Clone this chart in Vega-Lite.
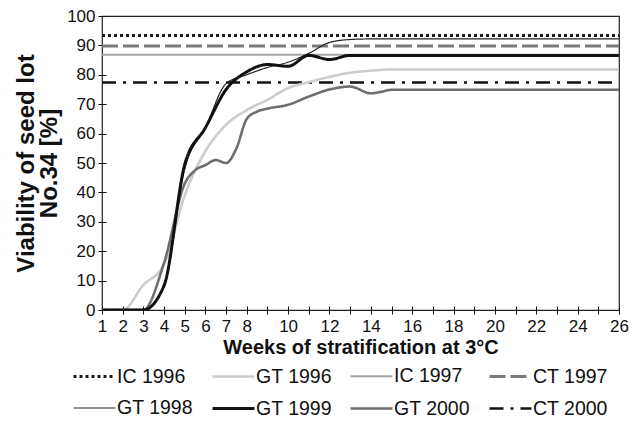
{
  "$schema": "https://vega.github.io/schema/vega-lite/v6.json",
  "autosize": {"type": "none"},
  "width": 517,
  "height": 294,
  "padding": {"left": 102, "top": 16, "right": 24, "bottom": 124},
  "background": "white",
  "config": {
    "font": "Liberation Sans",
    "view": {"stroke": "#222222", "strokeWidth": 1.2},
    "axis": {"labelColor": "#111111", "titleColor": "#111111", "tickColor": "#111111"}
  },
  "data": {
    "values": [
      {"series": "IC 1996", "week": 1, "value": 93.4},
      {"series": "IC 1996", "week": 26, "value": 93.4},
      {"series": "CT 1997", "week": 1, "value": 89.8},
      {"series": "CT 1997", "week": 26, "value": 89.8},
      {"series": "CT 2000", "week": 1, "value": 77.4},
      {"series": "CT 2000", "week": 26, "value": 77.4},
      {"series": "IC 1997", "week": 1, "value": 86.8},
      {"series": "IC 1997", "week": 26, "value": 86.8},
      {"series": "GT 1996", "week": 1, "value": 0},
      {"series": "GT 1996", "week": 2, "value": 0},
      {"series": "GT 1996", "week": 3, "value": 8.5},
      {"series": "GT 1996", "week": 4, "value": 15.5},
      {"series": "GT 1996", "week": 5, "value": 39},
      {"series": "GT 1996", "week": 6, "value": 54},
      {"series": "GT 1996", "week": 7, "value": 63},
      {"series": "GT 1996", "week": 8, "value": 68},
      {"series": "GT 1996", "week": 9, "value": 71.5},
      {"series": "GT 1996", "week": 10, "value": 75.5},
      {"series": "GT 1996", "week": 11, "value": 77.5},
      {"series": "GT 1996", "week": 12, "value": 79.3},
      {"series": "GT 1996", "week": 13, "value": 80.7},
      {"series": "GT 1996", "week": 14, "value": 81.4},
      {"series": "GT 1996", "week": 15, "value": 81.8},
      {"series": "GT 1996", "week": 26, "value": 81.8},
      {"series": "GT 2000", "week": 1, "value": 0},
      {"series": "GT 2000", "week": 2, "value": 0},
      {"series": "GT 2000", "week": 3, "value": 0},
      {"series": "GT 2000", "week": 4, "value": 16},
      {"series": "GT 2000", "week": 5, "value": 43},
      {"series": "GT 2000", "week": 5.5, "value": 47.5},
      {"series": "GT 2000", "week": 6, "value": 49.3},
      {"series": "GT 2000", "week": 6.5, "value": 51},
      {"series": "GT 2000", "week": 7, "value": 50},
      {"series": "GT 2000", "week": 7.5, "value": 55},
      {"series": "GT 2000", "week": 8, "value": 65},
      {"series": "GT 2000", "week": 8.5, "value": 67.5},
      {"series": "GT 2000", "week": 9, "value": 68.5},
      {"series": "GT 2000", "week": 10, "value": 69.8},
      {"series": "GT 2000", "week": 11, "value": 72.6},
      {"series": "GT 2000", "week": 12, "value": 75},
      {"series": "GT 2000", "week": 13, "value": 76},
      {"series": "GT 2000", "week": 14, "value": 73.7},
      {"series": "GT 2000", "week": 14.5, "value": 74.2},
      {"series": "GT 2000", "week": 15, "value": 74.9},
      {"series": "GT 2000", "week": 26, "value": 74.9},
      {"series": "GT 1998", "week": 1, "value": 0},
      {"series": "GT 1998", "week": 2, "value": 0},
      {"series": "GT 1998", "week": 3, "value": 0},
      {"series": "GT 1998", "week": 4, "value": 8},
      {"series": "GT 1998", "week": 5, "value": 48},
      {"series": "GT 1998", "week": 6, "value": 62},
      {"series": "GT 1998", "week": 7, "value": 77},
      {"series": "GT 1998", "week": 8, "value": 80},
      {"series": "GT 1998", "week": 9, "value": 82.5},
      {"series": "GT 1998", "week": 10, "value": 84.3},
      {"series": "GT 1998", "week": 11, "value": 87.3},
      {"series": "GT 1998", "week": 12, "value": 91},
      {"series": "GT 1998", "week": 13, "value": 92},
      {"series": "GT 1998", "week": 14, "value": 92.2},
      {"series": "GT 1998", "week": 26, "value": 92.2},
      {"series": "GT 1999", "week": 1, "value": 0},
      {"series": "GT 1999", "week": 2, "value": 0},
      {"series": "GT 1999", "week": 3, "value": 0},
      {"series": "GT 1999", "week": 4, "value": 8.3},
      {"series": "GT 1999", "week": 5, "value": 49.5},
      {"series": "GT 1999", "week": 6, "value": 62},
      {"series": "GT 1999", "week": 7, "value": 75},
      {"series": "GT 1999", "week": 8, "value": 81},
      {"series": "GT 1999", "week": 9, "value": 83.5},
      {"series": "GT 1999", "week": 10, "value": 82.9},
      {"series": "GT 1999", "week": 11, "value": 86.6},
      {"series": "GT 1999", "week": 12, "value": 85.2},
      {"series": "GT 1999", "week": 13, "value": 86.6},
      {"series": "GT 1999", "week": 26, "value": 86.6}
    ]
  },
  "mark": {"type": "line", "interpolate": "monotone", "strokeCap": "butt", "clip": true},
  "encoding": {
    "x": {
      "field": "week", "type": "quantitative",
      "scale": {"domain": [1, 26], "nice": false, "zero": false},
      "axis": {
        "values": [1,2,3,4,5,6,7,8,9,10,11,12,13,14,15,16,17,18,19,20,21,22,23,24,25,26],
        "labelExpr": "datum.value <= 8 || datum.value % 2 == 0 ? datum.label : ''",
        "grid": false, "domain": false, "offset": -4, "tickSize": 8, "tickWidth": 1,
        "labelFlush": false, "labelOverlap": false, "labelBound": false,
        "labelFontSize": 17, "labelPadding": 4,
        "title": "Weeks of stratification at 3°C",
        "titleFontSize": 20, "titleFontWeight": "bold", "titlePadding": 3
      }
    },
    "y": {
      "field": "value", "type": "quantitative",
      "scale": {"domain": [0, 100], "nice": false},
      "axis": {
        "values": [0,10,20,30,40,50,60,70,80,90,100],
        "grid": false, "domain": false, "offset": -4, "tickSize": 8, "tickWidth": 1,
        "labelFlush": false, "labelOverlap": false, "labelBound": false,
        "labelFontSize": 17, "labelPadding": 3,
        "title": ["Viability of seed lot", "No.34 [%]"],
        "titleFontSize": 24, "titleFontWeight": "bold", "titlePadding": 5, "titleLineHeight": 23
      }
    },
    "color": {
      "field": "series", "type": "nominal",
      "scale": {
        "domain": ["IC 1996", "GT 1996", "IC 1997", "CT 1997", "GT 1998", "GT 1999", "GT 2000", "CT 2000"],
        "range": ["#1a1a1a", "#cccccc", "#a6a6a6", "#7a7a7a", "#222222", "#111111", "#6e6e6e", "#111111"]
      },
      "legend": {
        "title": null, "orient": "none", "legendX": -30, "legendY": 338,
        "direction": "horizontal", "columns": 4, "columnPadding": 13, "rowPadding": -14,
        "symbolType": "stroke", "symbolSize": 1764, "labelFontSize": 19.5, "labelOffset": 0,
        "labelColor": "#111111", "labelLimit": 200,
        "encode": {"symbols": {"update": {"strokeWidth": [{"test": "datum.value === 'GT 1998'", "value": 1.2}, {"test": "datum.value === 'IC 1997'", "value": 2}, {"test": "datum.value === 'GT 1996' || datum.value === 'GT 2000' || datum.value === 'CT 2000'", "value": 2.6}, {"value": 3}]}}}
      }
    },
    "strokeDash": {
      "field": "series", "type": "nominal",
      "scale": {
        "domain": ["IC 1996", "GT 1996", "IC 1997", "CT 1997", "GT 1998", "GT 1999", "GT 2000", "CT 2000"],
        "range": [[3, 3], [1, 0], [1, 0], [16, 5], [1, 0], [1, 0], [1, 0], [14, 7, 3, 7]]
      },
      "legend": {
        "title": null, "orient": "none", "legendX": -30, "legendY": 338,
        "direction": "horizontal", "columns": 4, "columnPadding": 13, "rowPadding": -14,
        "symbolType": "stroke", "symbolSize": 1764, "labelFontSize": 19.5, "labelOffset": 0,
        "labelColor": "#111111", "labelLimit": 200,
        "encode": {"symbols": {"update": {"strokeWidth": [{"test": "datum.value === 'GT 1998'", "value": 1.2}, {"test": "datum.value === 'IC 1997'", "value": 2}, {"test": "datum.value === 'GT 1996' || datum.value === 'GT 2000' || datum.value === 'CT 2000'", "value": 2.6}, {"value": 3}]}}}
      }
    },
    "strokeWidth": {
      "field": "series", "type": "nominal",
      "scale": {
        "type": "ordinal",
        "domain": ["IC 1996", "GT 1996", "IC 1997", "CT 1997", "GT 1998", "GT 1999", "GT 2000", "CT 2000"],
        "range": [3, 2.6, 2, 3, 1.2, 3, 2.6, 2.6]
      },
      "legend": {
        "title": null, "orient": "none", "legendX": -30, "legendY": 338,
        "direction": "horizontal", "columns": 4, "columnPadding": 13, "rowPadding": -14,
        "symbolType": "stroke", "symbolSize": 1764, "labelFontSize": 19.5, "labelOffset": 0,
        "labelColor": "#111111", "labelLimit": 200,
        "encode": {"symbols": {"update": {"strokeWidth": [{"test": "datum.value === 'GT 1998'", "value": 1.2}, {"test": "datum.value === 'IC 1997'", "value": 2}, {"test": "datum.value === 'GT 1996' || datum.value === 'GT 2000' || datum.value === 'CT 2000'", "value": 2.6}, {"value": 3}]}}}
      }
    }
  }
}
